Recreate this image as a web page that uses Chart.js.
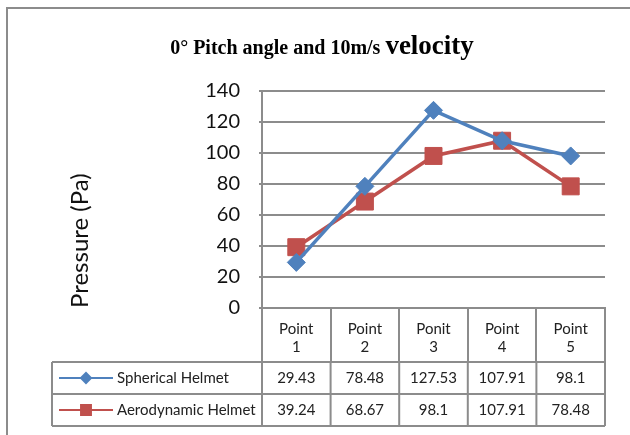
<!DOCTYPE html>
<html>
<head>
<meta charset="utf-8">
<title>Pressure chart</title>
<script src="https://cdn.jsdelivr.net/npm/chart.js@4"></script>
<style>
    body { margin: 0; background: #ffffff; }
    #wrap { width: 630px; height: 435px; }
</style>
</head>
<body>
<div id="wrap"><canvas id="pressureChart" width="630" height="435"></canvas></div>
<script>
// chart data
const categories = [['Point', '1'], ['Point', '2'], ['Ponit', '3'], ['Point', '4'], ['Point', '5']];
const seriesNames = ['Spherical Helmet', 'Aerodynamic Helmet'];
const sphericalValues = [29.43, 78.48, 127.53, 107.91, 98.1];
const aerodynamicValues = [39.24, 68.67, 98.1, 107.91, 78.48];
const yMin = 0;
const yMax = 140;
const yStep = 20;

const blue = '#4F81BD';
const red = '#C0504D';
const gridGray = '#8c8c8c';
const textFont = 'Lato, "Open Sans", sans-serif';

// outer frame + title
const framePlugin = {
    id: 'frame',
    beforeDraw: function(chart) {
        const ctx = chart.ctx;
        ctx.save();
        ctx.fillStyle = '#ffffff';
        ctx.fillRect(0, 0, chart.width, chart.height);
        ctx.strokeStyle = gridGray;
        ctx.lineWidth = 2;
        ctx.strokeRect(7, 8, 700, 600);
        ctx.restore();
    },
    afterDraw: function(chart) {
        const ctx = chart.ctx;
        const part1 = '0\u00B0 Pitch angle and 10m/s ';
        const part2 = 'velocity';
        const font1 = 'bold 20px "Liberation Serif", serif';
        const font2 = 'bold 27px "Liberation Serif", serif';
        ctx.save();
        ctx.fillStyle = '#000000';
        ctx.textBaseline = 'alphabetic';
        ctx.textAlign = 'left';
        ctx.font = font1;
        const w1 = ctx.measureText(part1).width;
        ctx.font = font2;
        const w2 = ctx.measureText(part2).width;
        let x0 = 322 - (w1 + w2) / 2;
        ctx.font = font1;
        ctx.fillText(part1, x0, 54);
        ctx.font = font2;
        ctx.fillText(part2, x0 + w1, 54);
        ctx.restore();
    }
};

// data table under the x axis
const tablePlugin = {
    id: 'dataTable',
    afterDraw: function(chart) {
        const ctx = chart.ctx;
        const xs = chart.scales.x;
        const rowH = 32;
        const top = xs.bottom;
        const left = 52;
        const half = (xs.right - xs.left) / categories.length / 2;
        const rows = [
            { name: seriesNames[0], values: sphericalValues, color: blue, style: 'rectRot', radius: 5 },
            { name: seriesNames[1], values: aerodynamicValues, color: red, style: 'rect', radius: 7 }
        ];

        ctx.save();
        ctx.strokeStyle = gridGray;
        ctx.lineWidth = 2;
        ctx.beginPath();
        for (let r = 0; r <= rows.length; r++) {
            ctx.moveTo(left, top + r * rowH);
            ctx.lineTo(xs.right, top + r * rowH);
        }
        ctx.moveTo(left, top);
        ctx.lineTo(left, top + rows.length * rowH);
        for (let i = 0; i <= categories.length; i++) {
            const bx = i < categories.length ? xs.getPixelForValue(i) - half : xs.right;
            ctx.moveTo(bx, top);
            ctx.lineTo(bx, top + rows.length * rowH);
        }
        ctx.stroke();

        rows.forEach(function(row, r) {
            const cy = top + r * rowH + rowH / 2;
            // legend key
            ctx.strokeStyle = row.color;
            ctx.fillStyle = row.color;
            ctx.lineWidth = 2;
            ctx.beginPath();
            ctx.moveTo(59, cy);
            ctx.lineTo(113, cy);
            ctx.stroke();
            Chart.helpers.drawPoint(ctx, { pointStyle: row.style, radius: row.radius, borderWidth: 1 }, 86, cy);

            ctx.fillStyle = '#222222';
            ctx.font = '15px ' + textFont;
            ctx.textBaseline = 'middle';
            ctx.textAlign = 'left';
            ctx.fillText(row.name, 117, cy);

            ctx.textAlign = 'center';
            row.values.forEach(function(v, i) {
                ctx.fillText(String(v), xs.getPixelForValue(i), cy);
            });
        });
        ctx.restore();
    }
};

document.addEventListener('DOMContentLoaded', function() {
    var ctx = document.getElementById('pressureChart').getContext('2d');
    var pressureChart = new Chart(ctx, {
        type: 'line',
        data: {
            labels: categories,
            datasets: [{
                label: seriesNames[0],
                data: sphericalValues,
                borderColor: blue,
                backgroundColor: blue,
                borderWidth: 3.5,
                pointStyle: 'rectRot',
                pointRadius: 9,
                pointBorderWidth: 1,
                tension: 0
            }, {
                label: seriesNames[1],
                data: aerodynamicValues,
                borderColor: red,
                backgroundColor: red,
                borderWidth: 3.5,
                pointStyle: 'rect',
                pointRadius: 12,
                pointBorderWidth: 1,
                tension: 0
            }]
        },
        options: {
            responsive: false,
            animation: false,
            layout: {
                padding: { left: 0, right: 25, top: 91, bottom: 73 }
            },
            plugins: {
                legend: { display: false },
                title: { display: false },
                tooltip: { enabled: false }
            },
            scales: {
                x: {
                    offset: true,
                    grid: {
                        offset: true,
                        drawOnChartArea: false,
                        drawTicks: true,
                        tickLength: 54,
                        color: gridGray,
                        lineWidth: 2
                    },
                    border: { color: gridGray, width: 2 },
                    ticks: {
                        color: '#222222',
                        font: { family: textFont, size: 15, lineHeight: 1.2 },
                        padding: -42,
                        maxRotation: 0,
                        autoSkip: false
                    },
                    afterFit: function(scale) { scale.height = 54; }
                },
                y: {
                    min: yMin,
                    max: yMax,
                    ticks: {
                        stepSize: yStep,
                        color: '#111111',
                        font: { family: textFont, size: 20 },
                        padding: 19
                    },
                    grid: {
                        color: gridGray,
                        lineWidth: 2,
                        tickLength: 3
                    },
                    border: { color: gridGray, width: 2 },
                    title: {
                        display: true,
                        text: 'Pressure (Pa)',
                        align: 'start',
                        color: '#111111',
                        font: { family: textFont, size: 24 },
                        padding: { top: 66, bottom: 0 }
                    },
                    afterFit: function(scale) { scale.width = 262; }
                }
            }
        },
        plugins: [framePlugin, tablePlugin]
    });
});
</script>
</body>
</html>
